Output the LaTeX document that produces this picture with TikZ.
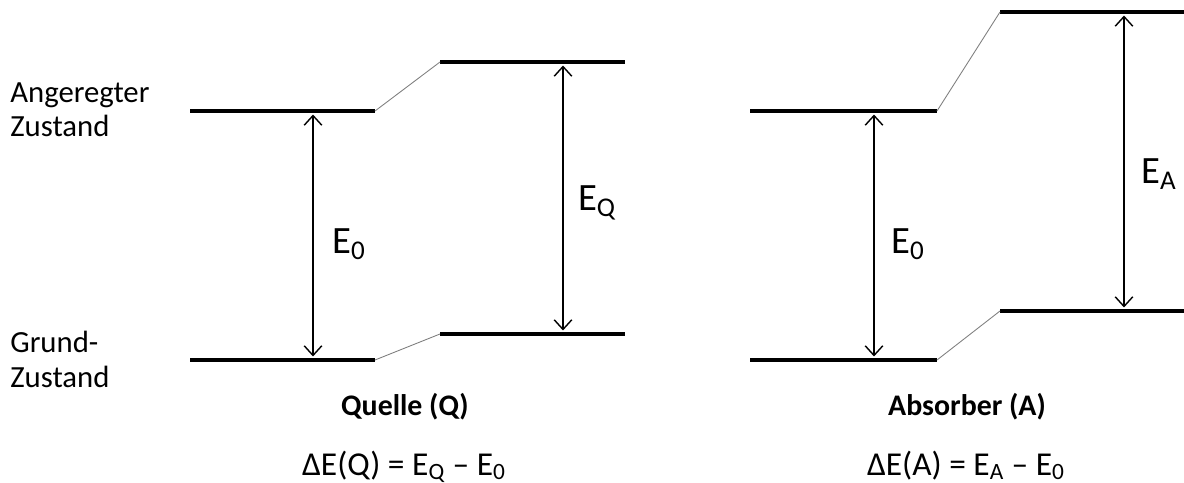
\documentclass[tikz,border=0pt]{standalone}
\usepackage{fontspec}
\setmainfont{Carlito}
\usetikzlibrary{arrows.meta}

\begin{document}
\begin{tikzpicture}[
    x=0.02cm, y=-0.02cm,
    level/.style={line width=2.8pt},
    link/.style={gray, line width=0.5pt},
    arrow/.style={{Straight Barb[length=5.5pt,width=10pt]}-{Straight Barb[length=5.5pt,width=10pt]}, line width=0.8pt},
    state/.style={anchor=base west, align=left, font=\fontsize{17.5}{19.9}\selectfont, inner sep=0pt},
    title/.style={anchor=base, font=\fontsize{17}{20}\selectfont\bfseries, inner sep=0pt},
    formula/.style={anchor=base, font=\fontsize{19}{22}\selectfont, inner sep=0pt},
    energy/.style={font=\fontsize{22}{26}\selectfont, inner sep=0pt}
]
    \useasboundingbox (0,0) rectangle (1184,483);

    % Quelle
    \coordinate (q0a) at (190,111); \coordinate (q0b) at (375,111);
    \coordinate (q1a) at (190,360); \coordinate (q1b) at (375,360);
    \coordinate (qea) at (440,62);  \coordinate (qeb) at (625,62);
    \coordinate (qga) at (440,334); \coordinate (qgb) at (625,334);
    \draw[level] (q0a) -- (q0b);
    \draw[level] (q1a) -- (q1b);
    \draw[level] (qea) -- (qeb);
    \draw[level] (qga) -- (qgb);
    \draw[link] (q0b) -- (qea);
    \draw[link] (q1b) -- (qga);
    \coordinate (qt) at (313,111); \coordinate (qb) at (313,360);
    \coordinate (qqt) at (563,62); \coordinate (qqb) at (563,334);
    \draw[arrow, shorten <=2pt, shorten >=2pt] (qt) -- (qb);
    \draw[arrow, shorten <=2pt, shorten >=2pt] (qqt) -- (qqb);
    \node[energy] (qe0) at (349,244) {E\textsubscript{0}};
    \node[energy] (qeq) at (597,203) {E\textsubscript{Q}};

    % Absorber
    \coordinate (a0a) at (750,111); \coordinate (a0b) at (937,111);
    \coordinate (a1a) at (750,360); \coordinate (a1b) at (937,360);
    \coordinate (aea) at (1000,12); \coordinate (aeb) at (1184,12);
    \coordinate (aga) at (1000,311); \coordinate (agb) at (1184,311);
    \draw[level] (a0a) -- (a0b);
    \draw[level] (a1a) -- (a1b);
    \draw[level] (aea) -- (aeb);
    \draw[level] (aga) -- (agb);
    \draw[link] (a0b) -- (aea);
    \draw[link] (a1b) -- (aga);
    \coordinate (at) at (874,111); \coordinate (ab) at (874,360);
    \coordinate (aat) at (1124,12); \coordinate (aab) at (1124,311);
    \draw[arrow, shorten <=2pt, shorten >=2pt] (at) -- (ab);
    \draw[arrow, shorten <=2pt, shorten >=2pt] (aat) -- (aab);
    \node[energy] (ae0) at (908,244) {E\textsubscript{0}};
    \node[energy] (aeA) at (1159,174) {E\textsubscript{A}};

    % Beschriftung
    \node[state] (exc) at (10,137) {Angeregter\\Zustand};
    \node[state] (gnd) at (10,387) {Grund-\\Zustand};
    \node[title] (tq) at (405,415) {Quelle (Q)};
    \node[title] (ta) at (967,415) {Absorber (A)};
    \node[formula] (fq) at (404,475) {ΔE(Q) = E\textsubscript{Q} – E\textsubscript{0}};
    \node[formula] (fa) at (966,475) {ΔE(A) = E\textsubscript{A} – E\textsubscript{0}};
\end{tikzpicture}
\end{document}
